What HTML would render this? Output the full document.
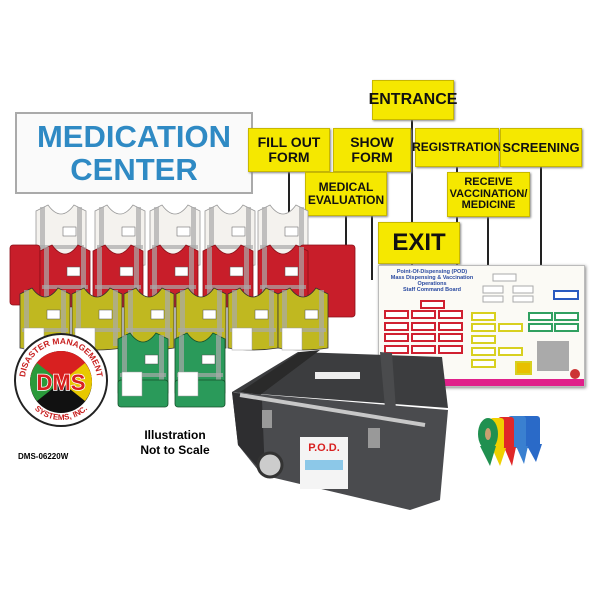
<!DOCTYPE html>
<html><head><style>
body{margin:0;width:600px;height:600px;background:#fff;position:relative;overflow:hidden;font-family:"Liberation Sans",sans-serif}
.a{position:absolute}
.sign{position:absolute;background:#f5e800;border:1px solid #c8b800;color:#111;font-weight:bold;text-align:center;display:flex;align-items:center;justify-content:center;line-height:1.05;box-shadow:1px 1px 2px #888}
.pole{position:absolute;width:2px;background:#222}
</style></head><body>
<!-- poles -->
<div class="pole" style="left:411px;top:118px;height:160px"></div>
<div class="pole" style="left:288px;top:170px;height:120px"></div>
<div class="pole" style="left:371px;top:170px;height:110px"></div>
<div class="pole" style="left:345px;top:215px;height:80px"></div>
<div class="pole" style="left:456px;top:165px;height:100px"></div>
<div class="pole" style="left:540px;top:165px;height:100px"></div>
<div class="pole" style="left:487px;top:215px;height:50px"></div>

<!-- banner -->
<div class="a" style="left:15px;top:112px;width:238px;height:82px;border:2px solid #aaa;background:#fafafa;color:#2f8ac4;font-weight:bold;font-size:31px;text-align:center;line-height:33px;padding-top:6px;box-sizing:border-box">MEDICATION<br>CENTER</div>

<div class="sign" style="left:372px;top:80px;width:80px;height:38px;font-size:16px">ENTRANCE</div>
<div class="sign" style="left:248px;top:128px;width:80px;height:42px;font-size:14px">FILL OUT<br>FORM</div>
<div class="sign" style="left:333px;top:128px;width:76px;height:42px;font-size:14px">SHOW<br>FORM</div>
<div class="sign" style="left:415px;top:128px;width:82px;height:37px;font-size:12px">REGISTRATION</div>
<div class="sign" style="left:500px;top:128px;width:80px;height:37px;font-size:13px">SCREENING</div>
<div class="sign" style="left:305px;top:172px;width:80px;height:42px;font-size:12px">MEDICAL<br>EVALUATION</div>
<div class="sign" style="left:447px;top:172px;width:81px;height:43px;font-size:11px">RECEIVE<br>VACCINATION/<br>MEDICINE</div>
<div class="sign" style="left:378px;top:222px;width:80px;height:40px;font-size:24px">EXIT</div>

<!-- board -->
<div class="a" style="left:378px;top:265px;width:205px;height:120px;background:#fbfaf5;border:1px solid #bbb;box-shadow:1px 1px 3px #888">
<div style="font-size:5.5px;color:#2a4aa0;font-weight:bold;padding:3px 8px;text-align:center;width:90px">Point-Of-Dispensing (POD)<br>Mass Dispensing &amp; Vaccination Operations<br>Staff Command Board</div>
<div style="position:absolute;left:0;bottom:0;width:205px;height:7px;background:#e0208a"></div>
<svg width="205" height="120" style="position:absolute;left:0;top:0">
<g fill="#fff" stroke="#d02030" stroke-width="2">
<rect x="6" y="45" width="23" height="7"/><rect x="6" y="57" width="23" height="7"/><rect x="6" y="68" width="23" height="7"/><rect x="6" y="80" width="23" height="7"/>
<rect x="33" y="45" width="23" height="7"/><rect x="33" y="57" width="23" height="7"/><rect x="33" y="68" width="23" height="7"/><rect x="33" y="80" width="23" height="7"/>
<rect x="60" y="45" width="23" height="7"/><rect x="60" y="57" width="23" height="7"/><rect x="60" y="68" width="23" height="7"/><rect x="60" y="80" width="23" height="7"/>
<rect x="42" y="35" width="23" height="7"/>
</g>
<g fill="#fff" stroke="#d8d020" stroke-width="2"><rect x="93" y="47" width="23" height="7"/><rect x="93" y="58" width="23" height="7"/><rect x="93" y="70" width="23" height="7"/><rect x="93" y="82" width="23" height="7"/><rect x="93" y="94" width="23" height="7"/><rect x="120" y="58" width="23" height="7"/><rect x="120" y="82" width="23" height="7"/><rect x="137" y="96" width="15" height="12" fill="#e8c000"/></g>
<g fill="#fff" stroke="#30a060" stroke-width="2"><rect x="150" y="47" width="23" height="7"/><rect x="176" y="47" width="23" height="7"/><rect x="150" y="58" width="23" height="7"/><rect x="176" y="58" width="23" height="7"/></g>
<g fill="#fff" stroke="#aaa" stroke-width="1"><rect x="114" y="8" width="23" height="7"/><rect x="104" y="20" width="20" height="7"/><rect x="134" y="20" width="20" height="7"/><rect x="104" y="30" width="20" height="6"/><rect x="134" y="30" width="20" height="6"/></g>
<rect x="175" y="25" width="24" height="8" fill="#fff" stroke="#2a5ac0" stroke-width="2"/>
<g fill="#aaa"><rect x="158" y="75" width="32" height="30"/></g>
<circle cx="196" cy="108" r="5" fill="#c33"/>
</svg></div>

<!-- vests -->
<svg class="a" style="left:0;top:200px" width="360" height="215">
<defs>
<g id="v"><path d="M0 6 L12 0 Q25 18 38 0 L50 6 L50 60 Q25 64 0 60Z"/><rect x="4" y="2" width="5" height="56" fill="#aaa" stroke="none" opacity=".7"/><rect x="41" y="2" width="5" height="56" fill="#aaa" stroke="none" opacity=".7"/><rect x="2" y="40" width="46" height="4" fill="#aaa" stroke="none" opacity=".7"/><rect x="27" y="22" width="13" height="9" fill="#fff" stroke="#555" stroke-width=".5"/></g>
</defs>
<g fill="#f4f2ee" stroke="#999" stroke-width=".8"><use href="#v" x="36" y="5"/><use href="#v" x="95" y="5"/><use href="#v" x="150" y="5"/><use href="#v" x="205" y="5"/><use href="#v" x="258" y="5"/></g>
<g fill="#c81e2a" stroke="#8a1018" stroke-width=".8">
<rect x="10" y="45" width="30" height="60" rx="3"/><rect x="300" y="45" width="55" height="72" rx="3"/>
<use href="#v" x="40" y="45"/><use href="#v" x="93" y="45"/><use href="#v" x="148" y="45"/><use href="#v" x="203" y="45"/><use href="#v" x="258" y="45"/></g>
<g fill="#c0b820" stroke="#333" stroke-width=".8">
<use href="#v" x="20" y="88"/><use href="#v" x="72" y="88"/><use href="#v" x="124" y="88"/><use href="#v" x="176" y="88"/><use href="#v" x="228" y="88"/><use href="#v" x="278" y="88"/></g>
<g fill="#fff" stroke="#999" stroke-width=".5"><rect x="24" y="128" width="20" height="22"/><rect x="75" y="128" width="20" height="22"/><rect x="232" y="128" width="20" height="22"/><rect x="282" y="128" width="20" height="22"/></g>
<g fill="#2a9a5a" stroke="#15502a" stroke-width=".8"><use href="#v" x="118" y="133"/><use href="#v" x="175" y="133"/>
<rect x="118" y="180" width="50" height="27" rx="3"/><rect x="175" y="180" width="50" height="27" rx="3"/></g>
<g fill="#fff" stroke="#999" stroke-width=".5"><rect x="122" y="172" width="20" height="24"/><rect x="178" y="172" width="20" height="24"/></g>
</svg>

<!-- logo -->
<svg class="a" style="left:13px;top:330px" width="96" height="100">
<defs><path id="arc" d="M12 50 A36 36 0 0 1 84 50"/><path id="arc2" d="M10 52 A38 38 0 0 0 86 52"/></defs>
<circle cx="48" cy="50" r="46" fill="#fff" stroke="#222" stroke-width="2"/>
<text font-size="8.5" font-weight="bold" fill="#c82020" font-family="Liberation Sans"><textPath href="#arc" startOffset="50%" text-anchor="middle">DISASTER MANAGEMENT</textPath></text>
<text font-size="8" font-weight="bold" fill="#c82020" font-family="Liberation Sans"><textPath href="#arc2" startOffset="50%" text-anchor="middle" side="left">SYSTEMS, INC.</textPath></text>
<circle cx="48" cy="52" r="31" fill="#111"/>
<path d="M17 52 A31 31 0 0 1 79 52Z" fill="#d82020"/>
<path d="M17 52 A31 31 0 0 1 24 33 L48 52Z" fill="#2a9a3a"/>
<path d="M17 52 A31 31 0 0 0 24 71 L48 52Z" fill="#2a9a3a"/>
<path d="M79 52 A31 31 0 0 0 72 33 L48 52Z" fill="#e8c800"/>
<path d="M79 52 A31 31 0 0 1 72 71 L48 52Z" fill="#e8c800"/>
<text x="48" y="60" font-size="22" font-weight="bold" fill="#d82020" stroke="#fff" stroke-width="1.5" paint-order="stroke" text-anchor="middle" font-family="Liberation Sans">DMS</text>
</svg>
<div class="a" style="left:18px;top:452px;font-size:8px;font-weight:bold">DMS-06220W</div>
<div class="a" style="left:130px;top:428px;width:90px;text-align:center;font-size:12px;font-weight:bold;line-height:15px">Illustration<br>Not to Scale</div>

<!-- case -->
<svg class="a" style="left:0;top:0" width="600" height="600">
<polygon points="298,352 442,357 448,408 232,392" fill="#3c3d3f"/>
<polygon points="300,352 320,350 260,395 240,392" fill="#2a2a2a"/>
<polygon points="380,352 392,353 396,410 385,408" fill="#4a4b4d"/>
<polygon points="232,392 448,410 440,500 410,510 262,475 238,445" fill="#4a4b4e"/>
<polygon points="232,392 262,400 265,475 238,445" fill="#2e2e30"/>
<line x1="240" y1="395" x2="425" y2="425" stroke="#c8c8c8" stroke-width="4"/>
<rect x="262" y="410" width="10" height="18" fill="#999"/><rect x="368" y="428" width="12" height="20" fill="#999"/>
<rect x="315" y="372" width="45" height="7" fill="#eee"/>
<rect x="300" y="437" width="48" height="52" fill="#f4f4f4"/>
<rect x="305" y="460" width="38" height="10" fill="#8cc8e8"/>
<text x="324" y="451" font-size="11" font-weight="bold" fill="#d82020" text-anchor="middle" font-family="Liberation Sans">P.O.D.</text>
<circle cx="270" cy="465" r="12" fill="#ccc" stroke="#333" stroke-width="3"/>
</svg>

<!-- tapes -->
<svg class="a" style="left:476px;top:414px" width="80" height="60">
<rect x="44" y="2" width="20" height="32" rx="3" fill="#2a6ac8"/><polygon points="50,30 60,48 66,30" fill="#2a6ac8"/>
<rect x="32" y="2" width="18" height="32" rx="3" fill="#3a80d0"/><polygon points="40,32 48,50 52,32" fill="#3a80d0"/>
<rect x="22" y="3" width="16" height="32" rx="3" fill="#e02828"/><polygon points="28,33 36,52 40,33" fill="#e02828"/>
<rect x="14" y="4" width="14" height="32" rx="3" fill="#f0d000"/><polygon points="16,34 24,52 30,34" fill="#f0d000"/>
<ellipse cx="12" cy="20" rx="10" ry="16" fill="#209050"/><ellipse cx="12" cy="20" rx="3" ry="6" fill="#c8a070"/>
<polygon points="4,32 14,52 20,32" fill="#209050"/>
</svg>
</body></html>
